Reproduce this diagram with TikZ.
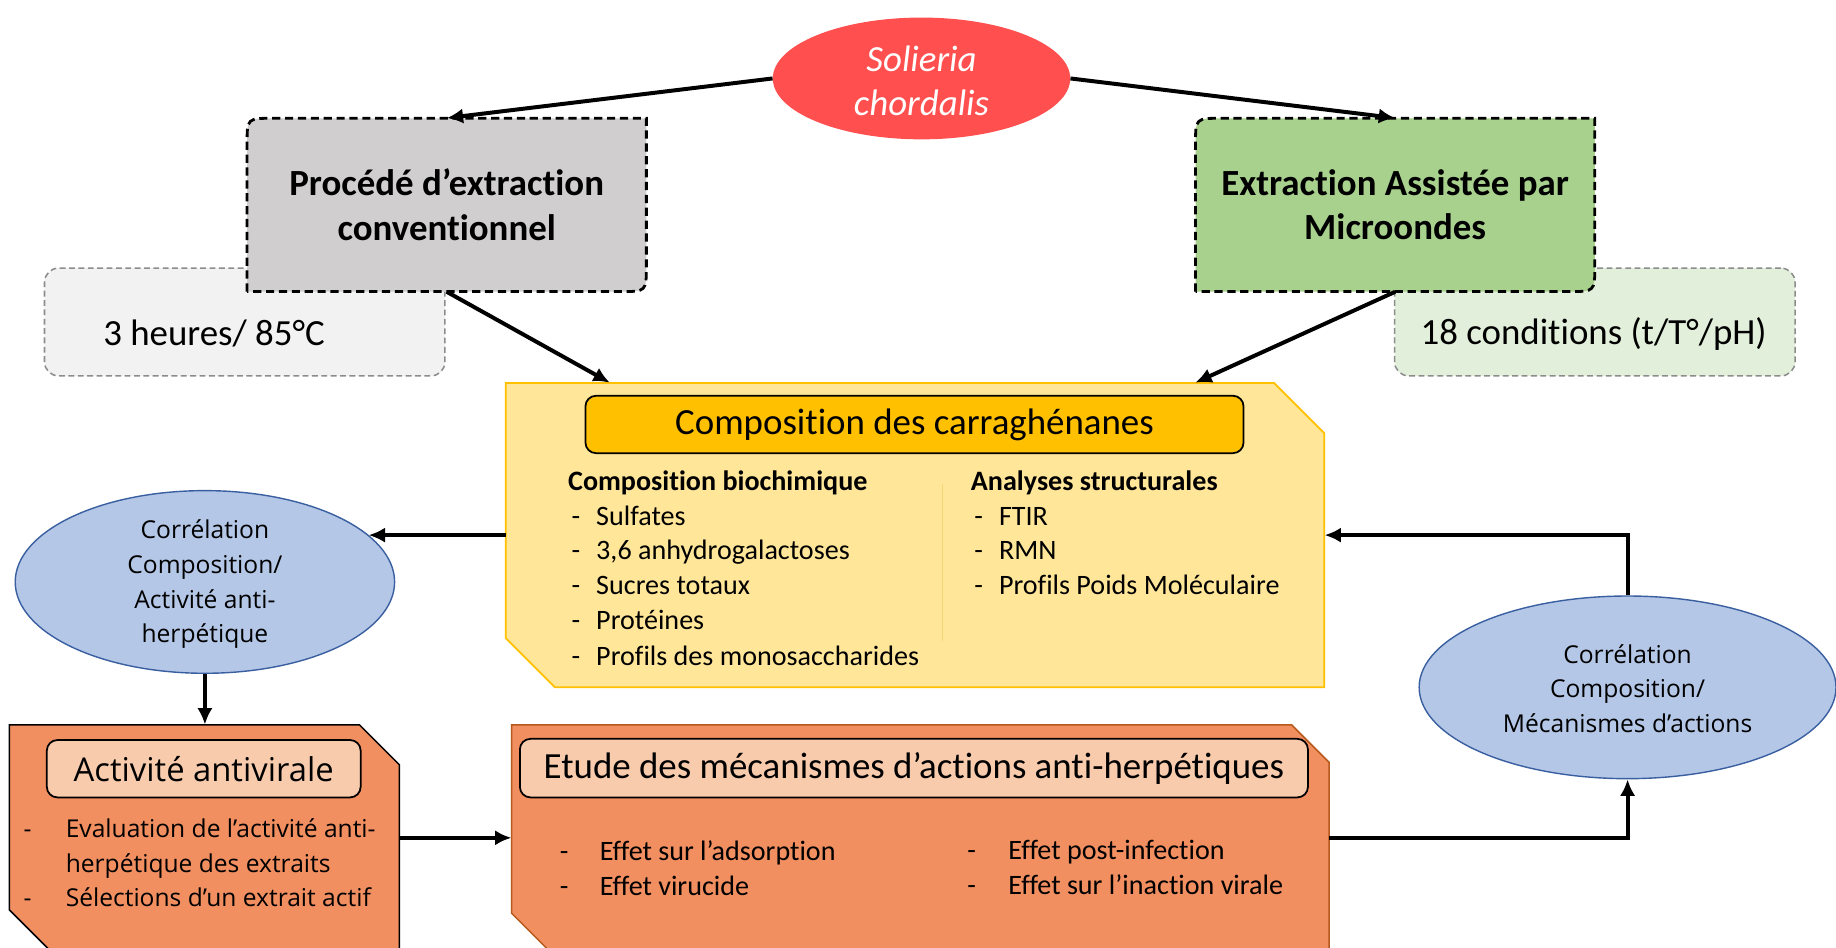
\documentclass[tikz,border=0pt]{standalone}
\usepackage{fontspec}
\setmainfont{Carlito}[Ligatures=NoCommon]
\newfontfamily\segoe{Open Sans}
\usetikzlibrary{shapes.geometric,arrows.meta,calc}
\definecolor{redell}{HTML}{FF4F4F}
\definecolor{pgray}{HTML}{D0CECE}
\definecolor{lgray}{HTML}{F2F2F2}
\definecolor{lborder}{HTML}{8C8C8C}
\definecolor{pgreen}{HTML}{A9D18E}
\definecolor{lgreen}{HTML}{E2EFDA}
\definecolor{yelfill}{HTML}{FFE699}
\definecolor{yelgold}{HTML}{FFC000}
\definecolor{yelsep}{HTML}{F7D57A}
\definecolor{bluefill}{HTML}{B4C7E7}
\definecolor{blueline}{HTML}{3A5FA0}
\definecolor{orng}{HTML}{F18F61}
\definecolor{peach}{HTML}{F8CBAD}
\definecolor{brownline}{HTML}{B5591C}
\begin{document}
\begin{tikzpicture}[x=1pt,y=-1pt,
  arr/.style={line width=3.4pt,-{Latex[length=14pt,width=13pt]}},
  big/.style={font=\fontsize{31.5}{38}\selectfont},
  bigb/.style={font=\fontsize{31.5}{38}\selectfont\bfseries},
  itm/.style={font=\fontsize{24}{29.75}\selectfont,anchor=base west,inner sep=0},
  itmb/.style={font=\fontsize{24}{29.75}\selectfont\bfseries,anchor=base west,inner sep=0},
  seg/.style={font=\segoe\fontsize{21}{29.7}\selectfont},
  segitm/.style={font=\segoe\fontsize{21}{29.7}\selectfont,anchor=base west,inner sep=0},
  lightbox/.style={draw=lborder,line width=1.3pt,dash pattern=on 5pt off 3pt,rounded corners=12,inner sep=0},
  mainborder/.style={draw=black,line width=2.4pt,dash pattern=on 7pt off 4pt},
  anchorbox/.style={inner sep=0,draw=none},
  titlebox/.style={draw=black,line width=1.5pt,rounded corners=9,inner sep=0},
  ell/.style={ellipse,draw=blueline,line width=1.2pt,fill=bluefill,inner sep=0}
]
\useasboundingbox (0,0) rectangle (1568,809);
\clip (0,0) rectangle (1568,809);

% light side boxes
\node[lightbox,fill=lgray,minimum width=342,minimum height=92] (tbox) at (209,275) {};
\node[big,anchor=west,inner sep=0] (ttxt) at (88,285) {3 heures/ 85°C};
\node[lightbox,fill=lgreen,minimum width=342,minimum height=92] (cbox) at (1362,275) {};
\node[big,anchor=west,inner sep=0] (ctxt) at (1213,285) {18 conditions (t/T°/pH)};

% extraction boxes
\filldraw[fill=pgray,mainborder] (211,249) -- (211,123) .. controls (211,101) .. (233,101) -- (552,101) -- (552,227) .. controls (552,249) .. (530,249) -- cycle;
\node[bigb,align=center,anchorbox,minimum width=341,minimum height=148] (proc) at (381.5,175) {Procédé d’extraction\\conventionnel};
\filldraw[fill=pgreen,mainborder] (1021,249) -- (1021,123) .. controls (1021,101) .. (1043,101) -- (1362,101) -- (1362,227) .. controls (1362,249) .. (1340,249) -- cycle;
\node[bigb,align=center,anchorbox,minimum width=341,minimum height=148] (mw) at (1191.5,175) {Extraction Assistée par\\Microondes};

% red ellipse
\node[ellipse,fill=redell,minimum width=254,minimum height=104,inner sep=0] (sol) at (787,67) {};
\node[font=\fontsize{31.5}{37}\selectfont\itshape,text=white,align=center,inner sep=0] (soltxt) at (787,69) {Solieria\\chordalis};

% yellow composition box
\filldraw[fill=yelfill,draw=yelgold,line width=1.5pt] (432,327) -- (1088,327) -- (1131,370) -- (1131,587) -- (474,587) -- (432,545) -- cycle;
\node[anchorbox,minimum width=699,minimum height=260] (yel) at (781.5,457) {};
\node[titlebox,fill=yelgold,minimum width=562,minimum height=49,big] (ytitle) at (781,362.5) {Composition des carraghénanes};
\draw[yelsep,line width=1pt] (805,413) -- (805,547);
\node[itmb] (h1) at (485,419) {Composition biochimique};
\foreach \y/\t [count=\i] in {449/Sulfates,478/{3,6 anhydrogalactoses},508/Sucres totaux,538/Protéines,568/Profils des monosaccharides}{
  \node[itm] (ld\i) at (488,\y) {-};
  \node[itm] (lt\i) at (509,\y) {\t};
}
\node[itmb] (h2) at (829,419) {Analyses structurales};
\foreach \y/\t [count=\i] in {449/FTIR,478/RMN,508/Profils Poids Moléculaire}{
  \node[itm] (rd\i) at (832,\y) {-};
  \node[itm] (rt\i) at (853,\y) {\t};
}

% blue ellipses
\node[ell,minimum width=324,minimum height=156] (e1) at (175,497) {};
\node[seg,align=center,inner sep=0] (e1t) at (175,499) {Corrélation\\Composition/\\Activité anti-\\herpétique};
\node[ell,minimum width=356,minimum height=156] (e2) at (1390,587) {};
\node[seg,align=center,inner sep=0] (e2t) at (1390,588) {Corrélation\\Composition/\\Mécanismes d’actions};

% activite antivirale box
\filldraw[fill=orng,draw=black,line width=1.3pt] (8,619) -- (307,619) -- (341,653) -- (341,813) -- (44,813) -- (8,777) -- cycle;
\node[anchorbox,minimum width=333,minimum height=193] (act) at (174.5,715.5) {};
\node[titlebox,fill=peach,minimum width=268,minimum height=49,font=\segoe\fontsize{28}{34}\selectfont] (acttitle) at (174,656.5) {Activité antivirale};
\node[segitm] (ad1) at (20,715) {-};
\node[segitm] (at1) at (56,715) {Evaluation de l’activité anti-};
\node[segitm] (at2) at (56,745) {herpétique des extraits};
\node[segitm] (ad3) at (20,774) {-};
\node[segitm] (at3) at (56,774) {Sélections d’un extrait actif};

% etude box
\filldraw[fill=orng,draw=brownline,line width=1.3pt] (437,619) -- (1103,619) -- (1135,651) -- (1135,813) -- (470,813) -- (437,780) -- cycle;
\node[anchorbox,minimum width=698,minimum height=193] (etu) at (786,715.5) {};
\node[titlebox,fill=peach,minimum width=673,minimum height=50,big] (etitle) at (780.5,656) {Etude des mécanismes d’actions anti-herpétiques};
\node[itm] (ed1) at (478,735) {-};
\node[itm] (et1) at (512,735) {Effet sur l’adsorption};
\node[itm] (ed2) at (478,765) {-};
\node[itm] (et2) at (512,765) {Effet virucide};
\node[itm] (ed3) at (826,734) {-};
\node[itm] (et3) at (861,734) {Effet post-infection};
\node[itm] (ed4) at (826,764) {-};
\node[itm] (et4) at (861,764) {Effet sur l’inaction virale};

% connectors
\draw[arr] (sol.west) -- (proc.north);
\draw[arr] (sol.east) -- (mw.north);
\draw[arr] (proc.south) -- ($(yel.north west)+(89,0)$);
\draw[arr] (mw.south) -- ($(yel.north west)+(589,0)$);
\draw[arr] (yel.west) -- (yel.west -| e1.16);
\draw[arr] (e1.south) -- (e1.south |- act.north);
\draw[arr] (act.east) -- (etu.west);
\draw[arr] (etu.east) -| (e2.south);
\draw[arr] (e2.north) |- (yel.east);
\end{tikzpicture}
\end{document}
